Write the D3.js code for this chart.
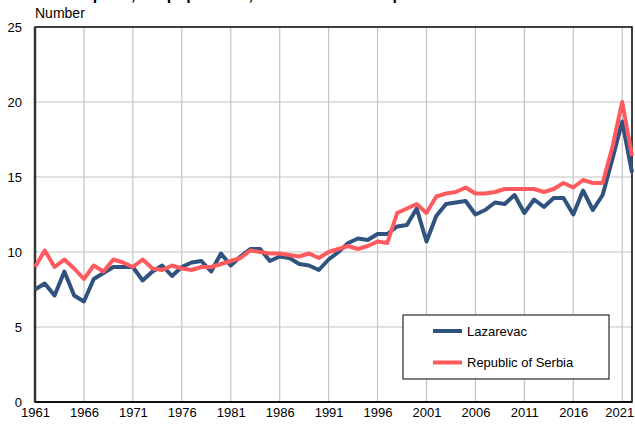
<!DOCTYPE html>
<html>
<head>
<meta charset="utf-8">
<script src="https://cdn.jsdelivr.net/npm/d3@7"></script>
<style>
  body { margin: 0; background: #fff; }
  text { font-family: "Liberation Sans", Arial, sans-serif; }
</style>
</head>
<body>
<svg id="chart" width="635" height="426"></svg>
<script>
// years 1961..2022
var years = d3.range(1961, 2023);

var lazarevac = [
  7.5, 7.9, 7.1, 8.7, 7.1, 6.7, 8.2, 8.6, 9.0, 9.0,
  9.0, 8.1, 8.7, 9.1, 8.4, 9.0, 9.3, 9.4, 8.7, 9.9,
  9.1, 9.7, 10.2, 10.2, 9.4, 9.7, 9.6, 9.2, 9.1, 8.8,
  9.5, 10.0, 10.6, 10.9, 10.8, 11.2, 11.2, 11.7, 11.8, 12.9,
  10.7, 12.4, 13.2, 13.3, 13.4, 12.5, 12.8, 13.3, 13.2, 13.8,
  12.6, 13.5, 13.0, 13.6, 13.6, 12.5, 14.1, 12.8, 13.8, 16.2,
  18.7, 15.3
];

var serbia = [
  9.0, 10.1, 9.0, 9.5, 8.9, 8.2, 9.1, 8.7, 9.5, 9.3,
  9.0, 9.5, 8.9, 8.8, 9.1, 8.9, 8.8, 9.0, 9.0, 9.2,
  9.4, 9.6, 10.1, 10.0, 9.9, 9.9, 9.8, 9.7, 9.9, 9.6,
  10.0, 10.2, 10.4, 10.2, 10.4, 10.7, 10.6, 12.6, 12.9, 13.2,
  12.6, 13.7, 13.9, 14.0, 14.3, 13.9, 13.9, 14.0, 14.2, 14.2,
  14.2, 14.2, 14.0, 14.2, 14.6, 14.3, 14.8, 14.6, 14.6, 17.0,
  20.0, 16.4
];

var xTicks = d3.range(1961, 2023, 5);
var yTicks = [0, 5, 10, 15, 20, 25];

var series = [
  { name: "Lazarevac", values: lazarevac, color: "#30527e" },
  { name: "Republic of Serbia", values: serbia, color: "#ff5b5f" }
];

var svg = d3.select("#chart"),
    margin = { top: 27, right: 3, bottom: 24, left: 35 },
    width = +svg.attr("width") - margin.left - margin.right,
    height = +svg.attr("height") - margin.top - margin.bottom;

// title, cut off at the top edge as in the source
svg.append("text")
    .attr("x", 35)
    .attr("y", 0)
    .style("font-size", "16px")
    .style("font-weight", "bold")
    .text("Deaths per 1,000 population, Lazarevac and Republic of Serbia");

svg.append("text")
    .attr("x", 35)
    .attr("y", 18)
    .style("font-size", "14px")
    .text("Number");

var g = svg.append("g").attr("transform", "translate(" + margin.left + "," + margin.top + ")");

var x = d3.scaleLinear().domain([1961, 2022]).range([0, width]),
    y = d3.scaleLinear().domain([0, 25]).range([height, 0]);

// grid
g.append("g").selectAll("line")
    .data(xTicks.slice(1))
  .enter().append("line")
    .attr("x1", function(d) { return x(d); })
    .attr("x2", function(d) { return x(d); })
    .attr("y1", 0)
    .attr("y2", height)
    .attr("stroke", "#c4c4c4")
    .attr("stroke-width", 1.2);

g.append("g").selectAll("line")
    .data(yTicks.slice(1, -1))
  .enter().append("line")
    .attr("x1", 0)
    .attr("x2", width)
    .attr("y1", function(d) { return y(d); })
    .attr("y2", function(d) { return y(d); })
    .attr("stroke", "#c4c4c4")
    .attr("stroke-width", 1.2);

// frame
g.append("rect")
    .attr("width", width)
    .attr("height", height)
    .attr("fill", "none")
    .attr("stroke", "#000")
    .attr("stroke-width", 1.5);

g.append("line")
    .attr("x1", 0).attr("x2", 0)
    .attr("y1", 0).attr("y2", height)
    .attr("stroke", "#333")
    .attr("stroke-width", 2.5);

g.append("line")
    .attr("x1", 0).attr("x2", width)
    .attr("y1", height).attr("y2", height)
    .attr("stroke", "#111")
    .attr("stroke-width", 2);

// axes
var xAxis = g.append("g")
    .attr("transform", "translate(0," + height + ")")
    .call(d3.axisBottom(x).tickValues(xTicks).tickFormat(d3.format("d")).tickSize(0).tickPadding(6));
xAxis.select(".domain").remove();
xAxis.selectAll("text").style("font-size", "13px").attr("fill", "#000")
    .attr("font-family", null)
    .attr("dx", function(d) { return d === 2021 ? -3 : 0; });

var yAxis = g.append("g")
    .call(d3.axisLeft(y).tickValues(yTicks).tickSize(0).tickPadding(13));
yAxis.select(".domain").remove();
yAxis.selectAll("text").style("font-size", "13px").attr("fill", "#000")
    .attr("font-family", null);

// lines
var line = d3.line()
    .x(function(d, i) { return x(years[i]); })
    .y(function(d) { return y(d); });

g.selectAll(".series")
    .data(series)
  .enter().append("path")
    .attr("class", "series")
    .attr("d", function(d) { return line(d.values); })
    .attr("fill", "none")
    .attr("stroke", function(d) { return d.color; })
    .attr("stroke-width", 4)
    .attr("stroke-linejoin", "round");

// legend
var legend = svg.append("g").attr("transform", "translate(403,315)");
legend.append("rect")
    .attr("width", 206)
    .attr("height", 64)
    .attr("fill", "#fff")
    .attr("stroke", "#000")
    .attr("stroke-width", 1);

var item = legend.selectAll(".item")
    .data(series)
  .enter().append("g")
    .attr("class", "item")
    .attr("transform", function(d, i) { return "translate(0," + (16 + i * 31.5) + ")"; });

item.append("line")
    .attr("x1", 30).attr("x2", 59)
    .attr("stroke", function(d) { return d.color; })
    .attr("stroke-width", 4);

item.append("text")
    .attr("x", 64)
    .attr("dy", "0.35em")
    .style("font-size", "13px")
    .text(function(d) { return d.name; });
</script>
</body>
</html>
